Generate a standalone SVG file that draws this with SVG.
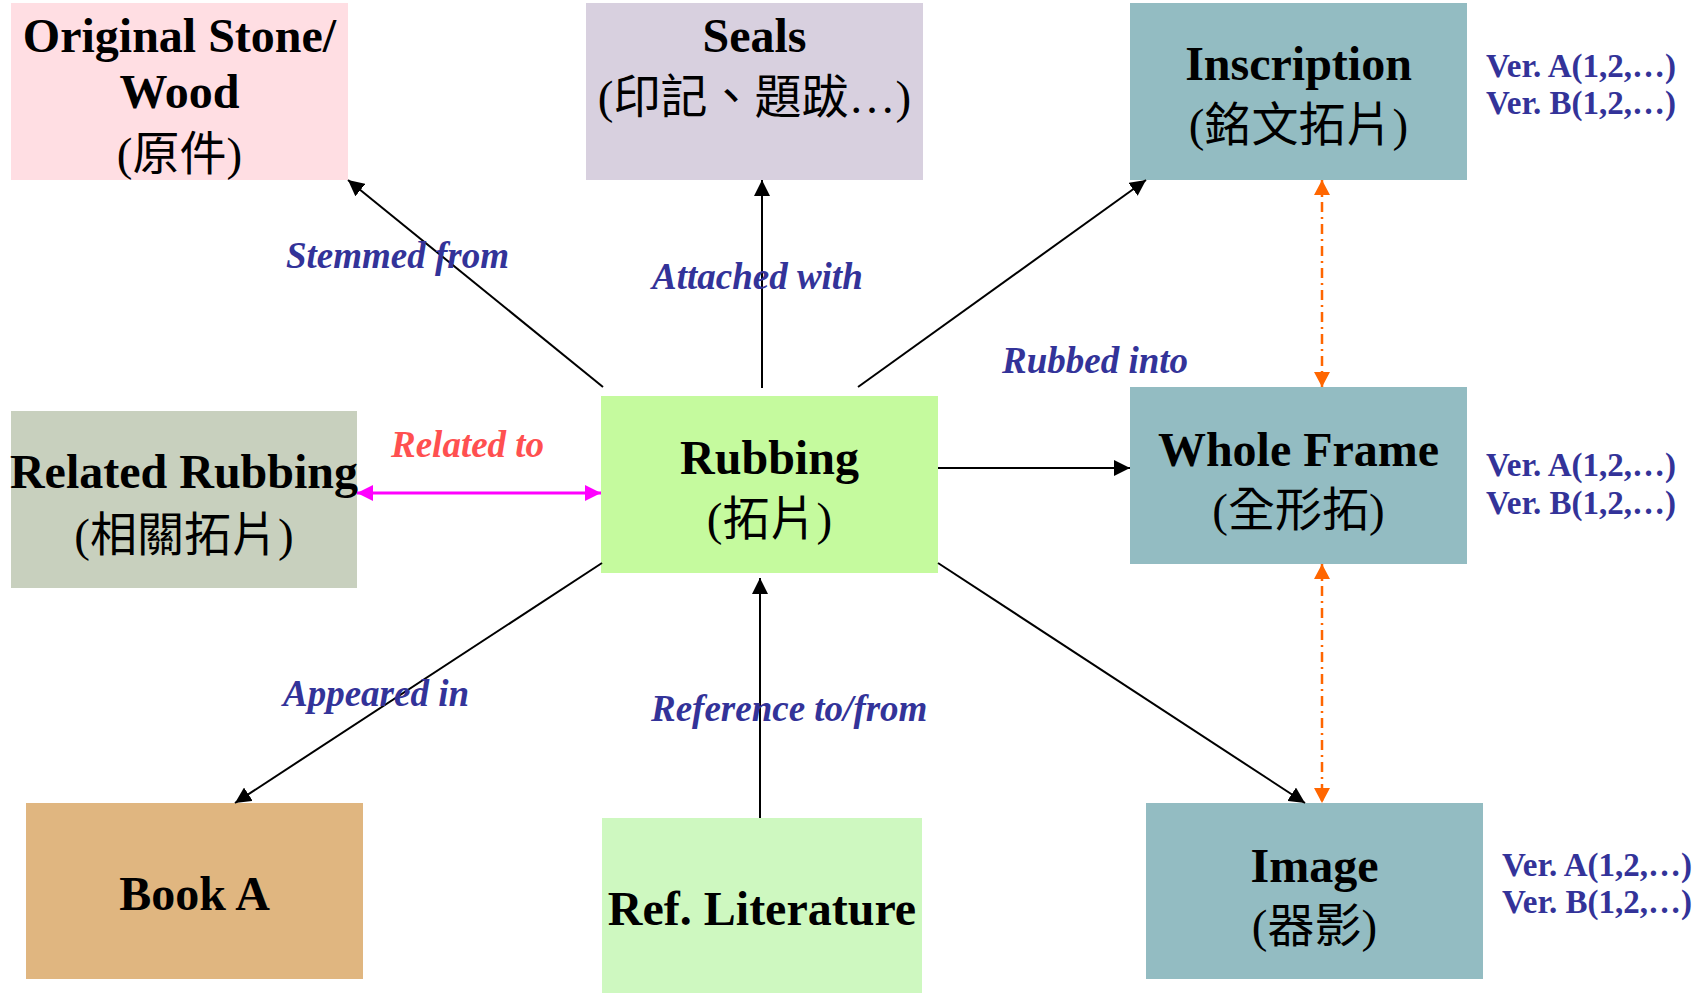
<svg xmlns="http://www.w3.org/2000/svg" width="1706" height="993" viewBox="0 0 1706 993">
<style>
.en{font-family:"Liberation Serif","Noto Sans CJK TC",serif;font-weight:bold;font-size:48px;fill:#000;text-anchor:middle}
.zh{font-family:"Liberation Serif","Noto Sans CJK TC",serif;font-weight:normal;font-size:47px;fill:#000;text-anchor:middle}
.lbl{font-family:"Liberation Serif",serif;font-weight:bold;font-style:italic;font-size:37px;fill:#333399}
.rel{font-family:"Liberation Serif",serif;font-weight:bold;font-style:italic;font-size:37px;fill:#FF5050}
.ver{font-family:"Liberation Serif",serif;font-weight:bold;font-size:33px;fill:#333399}
.blk{stroke:#000;stroke-width:2;fill:none;marker-end:url(#ah)}
.mag{stroke:#FF00FF;stroke-width:3;fill:none;marker-start:url(#am);marker-end:url(#am)}
.org{stroke:#FF6600;stroke-width:2.5;fill:none;stroke-dasharray:10 5 2 5;marker-start:url(#ao);marker-end:url(#ao)}
</style>
<defs>
<marker id="ah" markerUnits="userSpaceOnUse" markerWidth="16" markerHeight="16" refX="16" refY="8" orient="auto"><path d="M0,0 L16,8 L0,16 z" fill="#000"/></marker>
<marker id="am" markerUnits="userSpaceOnUse" markerWidth="16" markerHeight="16" refX="16" refY="8" orient="auto-start-reverse"><path d="M0,0 L16,8 L0,16 z" fill="#FF00FF"/></marker>
<marker id="ao" markerUnits="userSpaceOnUse" markerWidth="16" markerHeight="16" refX="15" refY="8" orient="auto-start-reverse"><path d="M0,0 L15,8 L0,16 z" fill="#FF6600"/></marker>
</defs>
<rect width="1706" height="993" fill="#fff"/>
<g id="original">
<rect x="11" y="3" width="337" height="177" fill="#FFDEE3"/>
<text class="en" x="179.5" y="52">Original Stone/</text>
<text class="en" x="179.5" y="108">Wood</text>
<text class="zh" x="179.5" y="170">(原件)</text>
</g>
<g id="seals">
<rect x="586" y="3" width="337" height="177" fill="#D8D0DF"/>
<text class="en" x="754.5" y="52">Seals</text>
<text class="zh" x="754.5" y="113">(印記、題跋…)</text>
</g>
<g id="inscription">
<rect x="1130" y="3" width="337" height="177" fill="#93BCC2"/>
<text class="en" x="1298.5" y="80">Inscription</text>
<text class="zh" x="1298.5" y="141">(銘文拓片)</text>
</g>
<g id="related">
<rect x="11" y="411" width="346" height="177" fill="#C8D0BE"/>
<text class="en" x="184" y="488">Related Rubbing</text>
<text class="zh" x="184" y="551">(相關拓片)</text>
</g>
<g id="rubbing">
<rect x="601" y="396" width="337" height="177" fill="#C5FA9E"/>
<text class="en" x="769.5" y="474">Rubbing</text>
<text class="zh" x="769.5" y="535">(拓片)</text>
</g>
<g id="wholeframe">
<rect x="1130" y="387" width="337" height="177" fill="#93BCC2"/>
<text class="en" x="1298.5" y="466">Whole Frame</text>
<text class="zh" x="1298.5" y="526">(全形拓)</text>
</g>
<g id="booka">
<rect x="26" y="803" width="337" height="176" fill="#E0B680"/>
<text class="en" x="194.5" y="910">Book A</text>
</g>
<g id="refliterature">
<rect x="602" y="818" width="320" height="175" fill="#CEF8C0"/>
<text class="en" x="762" y="925">Ref. Literature</text>
</g>
<g id="image">
<rect x="1146" y="803" width="337" height="176" fill="#93BCC2"/>
<text class="en" x="1314.5" y="882">Image</text>
<text class="zh" x="1314.5" y="942">(器影)</text>
</g>
<g id="versions">
<text class="ver" x="1486" y="77">Ver. A(1,2,…)</text>
<text class="ver" x="1486" y="114">Ver. B(1,2,…)</text>
<text class="ver" x="1486" y="476">Ver. A(1,2,…)</text>
<text class="ver" x="1486" y="514">Ver. B(1,2,…)</text>
<text class="ver" x="1502" y="876">Ver. A(1,2,…)</text>
<text class="ver" x="1502" y="913">Ver. B(1,2,…)</text>
</g>
<g id="connectors">
<line class="blk" x1="603" y1="387" x2="348" y2="180"/>
<line class="blk" x1="762" y1="388" x2="762" y2="180"/>
<line class="blk" x1="858" y1="387" x2="1146" y2="180"/>
<line class="blk" x1="938" y1="468" x2="1130" y2="468"/>
<line class="blk" x1="938" y1="563" x2="1305" y2="803"/>
<line class="blk" x1="602" y1="563" x2="235" y2="803"/>
<line class="blk" x1="760" y1="818" x2="760" y2="578"/>
<line class="mag" x1="357" y1="493" x2="601" y2="493"/>
<line class="org" x1="1322" y1="180" x2="1322" y2="387"/>
<line class="org" x1="1322" y1="564" x2="1322" y2="803"/>
</g>
<g id="labels">
<text class="lbl" x="286" y="268">Stemmed from</text>
<text class="lbl" x="652" y="289">Attached with</text>
<text class="lbl" x="1002" y="373">Rubbed into</text>
<text class="rel" x="391" y="457">Related to</text>
<text class="lbl" x="283" y="706">Appeared in</text>
<text class="lbl" x="651" y="721">Reference to/from</text>
</g>
</svg>
